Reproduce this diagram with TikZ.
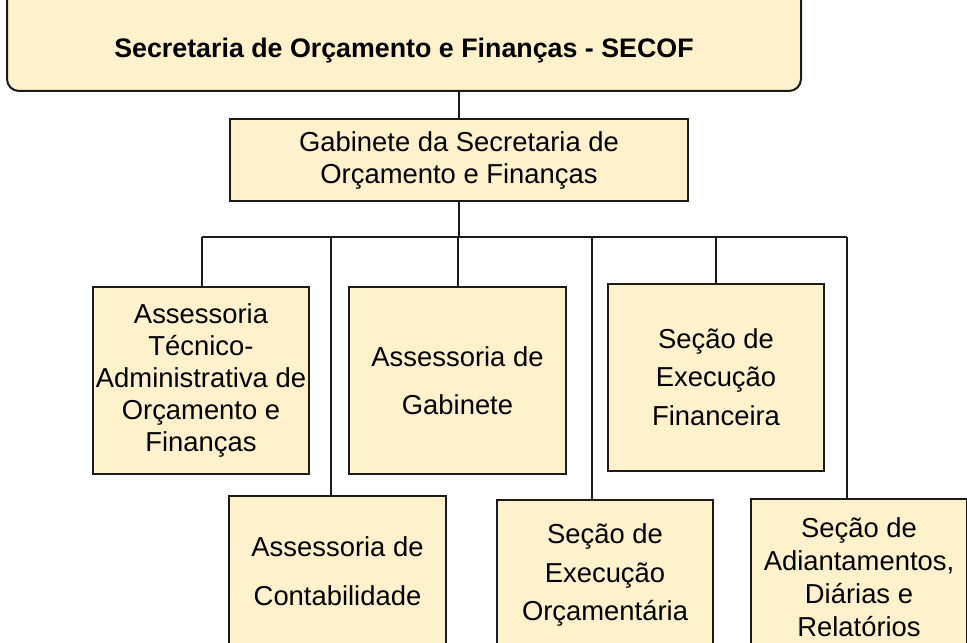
\documentclass[tikz,border=0pt]{standalone}
\usepackage{fontspec}
\setmainfont{Liberation Sans}
\definecolor{boxfill}{HTML}{FFF1CC}
\definecolor{boxline}{HTML}{1A1A1A}
\tikzstyle{unit}=[draw=boxline,fill=boxfill,line width=1pt,align=center,inner sep=0pt]
\tikzstyle{link}=[draw=boxline,line width=1pt,-]
\newcommand{\orgfont}[1]{\fontsize{13.7}{#1}\selectfont}

\begin{document}
\begin{tikzpicture}[x=0.5pt,y=-0.5pt]
    \useasboundingbox (0,0) rectangle (967,642);
    % Top of the chart
    \node[unit,rounded corners=6pt,anchor=south,minimum width=397pt,
          text height=60pt,text depth=16.8pt,font={\fontsize{13.4}{16}\selectfont\bfseries}]
        (secof) at (404,92) {Secretaria de Orçamento e Finanças - SECOF};
    \node[unit,minimum width=229pt,minimum height=41pt,font=\orgfont{16pt}]
        (gab) at (459,160) {Gabinete da Secretaria de\\Orçamento e Finanças};
    % Units below the cabinet
    \foreach \pos/\name/\bw/\bh/\ls/\txt in {
        {(201,380.5)/atec/108/93.5/16pt/{Assessoria\\Técnico-\\Administrativa de\\Orçamento e\\Finanças}},
        {(457.5,380.5)/agab/108.5/93.5/24pt/{Assessoria de\\Gabinete}},
        {(716,377)/sfin/108/93.5/19.3pt/{Seção de\\Execução\\Financeira}},
        {(337.5,571.5)/contab/108.5/75.5/24.5pt/{Assessoria de\\Contabilidade}},
        {(605,575)/sorc/108/75/19.3pt/{Seção de\\Execução\\Orçamentária}},
        {(859,577)/sadi/108/78/16.4pt/{Seção de\\Adiantamentos,\\Diárias e\\Relatórios}}}
        \node[unit,minimum width=\bw pt,minimum height=\bh pt,font=\orgfont{\ls}]
            (\name) at \pos {\txt};
    % Connectors
    \path[link] (gab.north) -- (gab.north |- secof.south);
    \foreach \x/\dest in {202/atec,331/contab,458/agab,592/sorc,716/sfin,847/sadi}{
        \coordinate (j\dest) at (\x,237);
        \path[link] (j\dest) -- (j\dest |- \dest.north);
    }
    \path[link] (jatec) -- (jsadi);
    \path[link] (gab.south) -- (gab.south |- jagab);
\end{tikzpicture}
\end{document}
